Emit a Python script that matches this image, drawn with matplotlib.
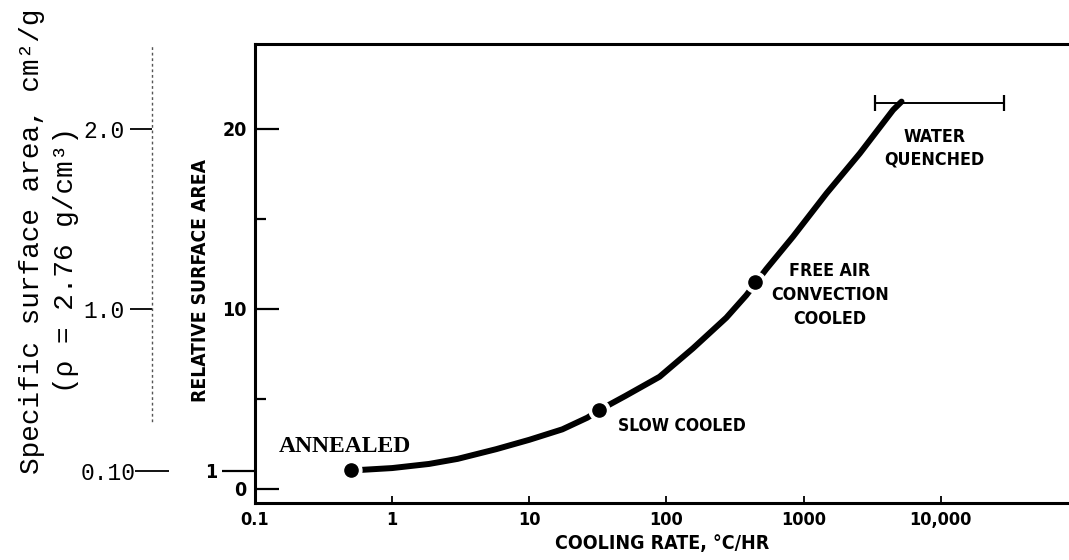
import matplotlib
matplotlib.use("Agg")
import matplotlib.pyplot as plt
import matplotlib.lines as mlines

# cooling curve
rate = [0.5, 0.6, 1, 1.86, 3, 5.74, 10, 17.4, 26.5, 32.4, 50, 89, 156, 273, 382, 534,
        836, 1470, 2570, 4490, 5170]
rel_area = [1.05, 1.05, 1.15, 1.38, 1.66, 2.2, 2.72, 3.3, 3.95, 4.37, 5.15, 6.22, 7.8, 9.5, 10.75, 12.2,
            14.0, 16.41, 18.63, 21.04, 21.5]

# marked points
point_rate = [0.5, 32.4, 440]
point_area = [1.05, 4.37, 11.5]

# water quenched range
water_rate = [3300, 29000]
water_area = [21.4, 21.4]

xticks = [0.1, 1, 10, 100, 1000, 10000]
xticklabels = ['0.1', '1', '10', '100', '1000', '10,000']
yticks = [0, 1, 10, 20]
yticklabels = ['0', '1', '10', '20']
yminor = [5, 15]
ssa_ticks = [0.1, 1.0, 2.0]
ssa_labels = ['0.10', '1.0', '2.0']

mono = ['Liberation Mono', 'DejaVu Sans Mono']
cond = dict(family=['DejaVu Sans'], fontweight='bold', fontstretch='condensed')

W, H = 1069, 560
fig = plt.figure(figsize=(W / 100, H / 100), dpi=100)

left, bottom, top = 255, 503, 44
ax = fig.add_axes([left / W, (H - bottom) / H, (W - left) / W, (bottom - top) / H])
ax.set_xscale('log')
ax.set_xlim(0.1, 8.6e4)
ylim = (-0.79, 24.7)
ax.set_ylim(*ylim)

for s in ['left', 'bottom', 'top']:
    ax.spines[s].set_linewidth(2.2)
ax.spines['right'].set_visible(False)

# curve + dots (white halo gives the gap in the line)
ax.plot(rate, rel_area, color='black', lw=4.3, solid_capstyle='round', zorder=2)
ax.plot(point_rate, point_area, 'o', color='white', ms=15, zorder=3)
ax.plot(point_rate, point_area, 'o', color='black', ms=9.5, zorder=4)
ax.plot(water_rate, water_area, color='black', lw=1.4, marker='|', ms=11, mew=1.6, zorder=1)

# x axis
ax.xaxis.set_major_locator(matplotlib.ticker.FixedLocator(xticks))
ax.xaxis.set_minor_locator(matplotlib.ticker.NullLocator())
ax.set_xticklabels(xticklabels)
ax.tick_params(axis='x', direction='in', length=5, width=1.3, pad=6)
for lab in ax.get_xticklabels():
    lab.update(cond)
    lab.set_fontsize(13)
ax.set_xlabel('COOLING RATE, °C/HR', fontsize=14, labelpad=3, **cond)

# y axis
ax.set_yticks(yticks)
ax.set_yticklabels(yticklabels)
ax.set_yticks(yminor, minor=True)
ax.tick_params(axis='y', which='major', direction='in', length=17, width=1.6, pad=6)
ax.tick_params(axis='y', which='minor', direction='in', length=8, width=1.6)
for lab in ax.get_yticklabels():
    lab.update(cond)
    lab.set_fontsize(14)
t1 = ax.yaxis.get_major_ticks()[1]
t1.set_pad(27)
t1.tick1line.set_marker(mlines.TICKLEFT)
t1.tick1line.set_markersize(24)

fig.text(200 / W, 1 - 281 / H, 'RELATIVE SURFACE AREA', rotation=90, ha='center', va='center',
         fontsize=13.8, **cond)

# annotations
ax.text(0.45, 2.32, 'ANNEALED', ha='center', va='center', family=['Liberation Serif', 'DejaVu Serif'],
        fontweight='bold', fontsize=17)
ax.text(44, 3.48, 'SLOW COOLED', ha='left', va='center', fontsize=12.5, **cond)
ax.text(1550, 10.76, 'FREE AIR\nCONVECTION\nCOOLED', ha='center', va='center',
        fontsize=12.8, linespacing=1.45, **cond)
ax.text(9040, 18.9, 'WATER\nQUENCHED', ha='center', va='center',
        fontsize=12.8, linespacing=1.35, **cond)

# specific surface area scale on the far left
ax2 = fig.add_axes([152 / W, (H - bottom) / H, 0.002, (bottom - top) / H])
ax2.set_ylim(ylim[0] * 0.1, ylim[1] * 0.1)
ax2.patch.set_visible(False)
ax2.xaxis.set_visible(False)
for s in ['right', 'bottom', 'top']:
    ax2.spines[s].set_visible(False)
ax2.spines['left'].set_linestyle((0, (1, 3)))
ax2.spines['left'].set_linewidth(1)
ax2.spines['left'].set_color('#555555')
ax2.spines['left'].set_bounds(0.376, 2.47)
ax2.set_yticks(ssa_ticks)
ax2.set_yticklabels(ssa_labels)
ax2.tick_params(axis='y', direction='out', length=16, width=1.3, pad=4)
for lab in ax2.get_yticklabels():
    lab.set_family(mono)
    lab.set_fontsize(16.5)
t0 = ax2.yaxis.get_major_ticks()[0]
t0.set_pad(-4)
t0.tick1line.set_marker('_')
t0.tick1line.set_markersize(24)

fig.text(32 / W, 1 - 241 / H, 'Specific surface area, cm²/g', rotation=90, ha='center', va='center',
         family=mono, fontsize=20)
fig.text(66 / W, 1 - 260 / H, '(ρ = 2.76 g/cm³)', rotation=90, ha='center', va='center',
         family=mono, fontsize=20)

fig.savefig('out.png', dpi=100)
